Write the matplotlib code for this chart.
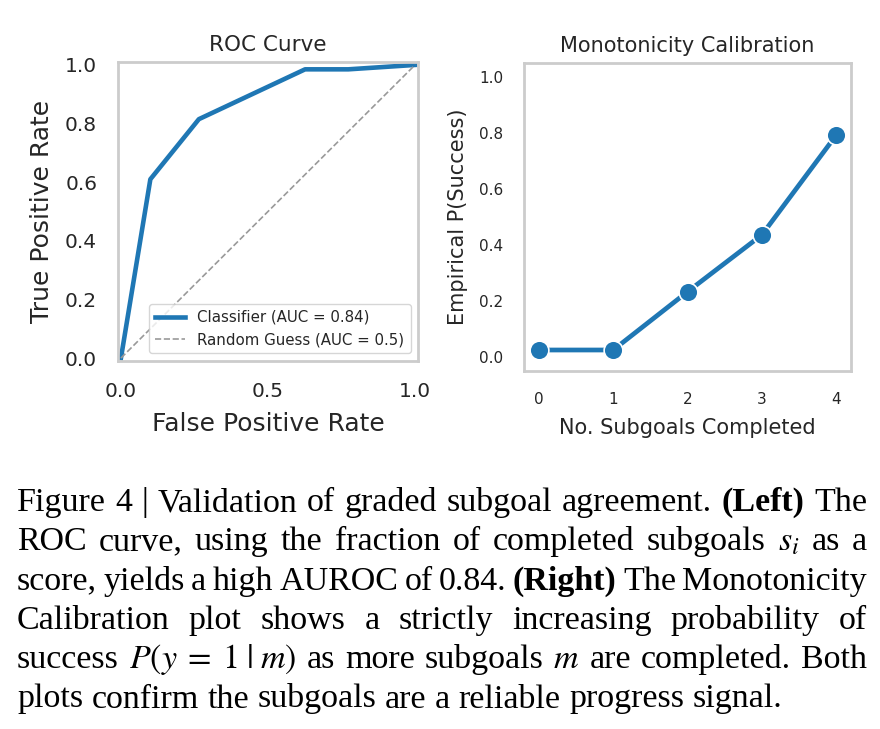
import matplotlib
matplotlib.use("Agg")
import matplotlib.pyplot as plt

# data
fpr = [0.0, 0.10, 0.265, 0.626, 0.773, 1.0]
tpr = [0.0, 0.61, 0.815, 0.985, 0.985, 1.0]
roc_label = "Classifier (AUC = 0.84)"
rand_label = "Random Guess (AUC = 0.5)"

subgoals = [0, 1, 2, 3, 4]
p_success = [0.025, 0.025, 0.233, 0.436, 0.792]

caption = [
    ["Figure", "4", "|", "Validation", "of", "graded", "subgoal", "agreement.", "**(Left)", "The"],
    ["ROC", "curve,", "using", "the", "fraction", "of", "completed", "subgoals", "$s_i$", "as", "a"],
    ["score,", "yields", "a", "high", "AUROC", "of", "0.84.", "**(Right)", "The", "Monotonicity"],
    ["Calibration", "plot", "shows", "a", "strictly", "increasing", "probability", "of"],
    ["success", r"$P(y\;=\;1\;|\;m)$", "as", "more", "subgoals", "$m$", "are", "completed.", "Both"],
    ["plots", "confirm", "the", "subgoals", "are", "a", "reliable", "progress", "signal."],
]

blue = "#1f77b4"
dark = "#262626"
spine_c = "#cccccc"
plt.rcParams["mathtext.fontset"] = "stix"

W, H = 880, 729
fig = plt.figure(figsize=(W / 100, H / 100), dpi=100)


def style_axes(ax, tick_fs):
    for s in ax.spines.values():
        s.set_color(spine_c)
        s.set_linewidth(2.0)
    ax.tick_params(length=0, pad=15, labelsize=tick_fs, colors=dark)
    ax.grid(False)


# left: ROC curve
ax1 = fig.add_axes([118 / W, 1 - 361 / H, 300 / W, 299 / H])
ax1.plot(fpr, tpr, color=blue, lw=3.3, label=roc_label)
ax1.plot([0, 1], [0, 1], color="#999999", lw=1.2, ls="--", label=rand_label)
ax1.set_xlim(-0.01, 1.01)
ax1.set_ylim(-0.01, 1.01)
ax1.set_xticks([0, 0.5, 1.0])
ax1.set_yticks([0, 0.2, 0.4, 0.6, 0.8, 1.0])
style_axes(ax1, 14.5)
ax1.set_title("ROC Curve", fontsize=15.5, color=dark, pad=8)
ax1.set_xlabel("False Positive Rate", fontsize=18, color=dark, labelpad=8)
ax1.set_ylabel("True Positive Rate", fontsize=18, color=dark, labelpad=8)
leg = ax1.legend(loc="lower right", fontsize=10.8, frameon=True, framealpha=0.8,
                 edgecolor=spine_c, facecolor="white")
for t in leg.get_texts():
    t.set_color(dark)

# right: monotonicity calibration
ax2 = fig.add_axes([524 / W, 1 - 371 / H, 327 / W, 308 / H])
ax2.plot(subgoals, p_success, color=blue, lw=3.4, marker="o", ms=13.5,
         mec="white", mew=1.2)
ax2.set_xlim(-0.2, 4.2)
ax2.set_ylim(-0.05, 1.05)
ax2.set_xticks(subgoals)
ax2.set_yticks([0, 0.2, 0.4, 0.6, 0.8, 1.0])
style_axes(ax2, 11)
ax2.set_title("Monotonicity Calibration", fontsize=15, color=dark, pad=8)
ax2.set_xlabel("No. Subgoals Completed", fontsize=15, color=dark, labelpad=8)
ax2.set_ylabel("Empirical P(Success)", fontsize=15, color=dark, labelpad=8)

# caption, justified word by word
cap_fs = 24.5
left_px, right_px = 17, 867
base0, step = 511, 39.3
words = []
for i, line in enumerate(caption):
    row = []
    for w in line:
        bold = w.startswith("**")
        txt = w[2:] if bold else w
        t = fig.text(0, 0, txt, fontsize=cap_fs, family="Liberation Serif",
                     fontweight="bold" if bold else "normal", color="black",
                     va="baseline", ha="left")
        row.append(t)
    words.append(row)

fig.canvas.draw()
r = fig.canvas.get_renderer()
space = cap_fs * 0.25 * 100 / 72
for i, row in enumerate(words):
    widths = [t.get_window_extent(r).width for t in row]
    if i < len(words) - 1:
        gap = (right_px - left_px - sum(widths)) / (len(row) - 1)
    else:
        gap = space
    x = left_px
    y = base0 + i * step
    for t, w in zip(row, widths):
        t.set_position((x / W, 1 - y / H))
        x += w + gap

fig.savefig("out.png", dpi=100)
